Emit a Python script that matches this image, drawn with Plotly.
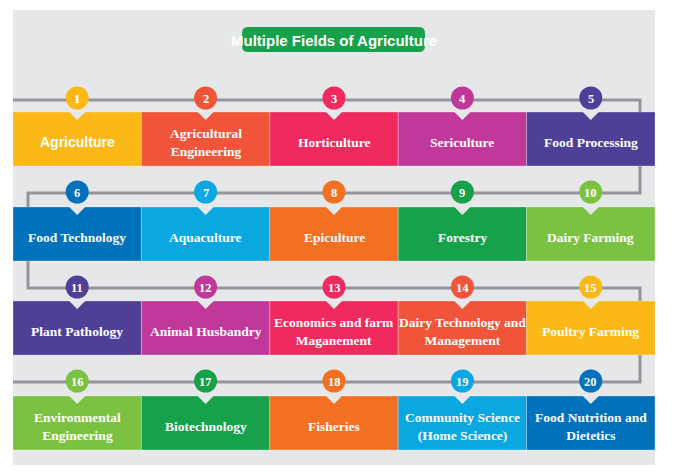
import plotly.graph_objects as go

title = "Multiple Fields of Agriculture"
fields = ["Agriculture", "Agricultural<br>Engineering", "Horticulture", "Sericulture", "Food Processing",
          "Food Technology", "Aquaculture", "Epiculture", "Forestry", "Dairy Farming",
          "Plant Pathology", "Animal Husbandry", "Economics and farm<br>Maganement", "Dairy Technology and<br>Management", "Poultry Farming",
          "Environmental<br>Engineering", "Biotechnology", "Fisheries", "Community Science<br>(Home Science)", "Food Nutrition and<br>Dietetics"]
colors = ["#FBB817", "#F05539", "#EE2A5F", "#C0399A", "#4F3F96",
          "#0071BA", "#0AA7E0", "#F37022", "#17A14B", "#7CC242",
          "#4F3F96", "#C0399A", "#EE2A5F", "#F05539", "#FBB817",
          "#7CC242", "#17A14B", "#F37022", "#0AA7E0", "#0071BA"]

bg = "#E6E7E8"
x0, w = 13, 128.4
box_top = [112, 207, 301, 396]
box_h = 54
circ_y = [98, 192, 287, 381]
line_y = [100, 193, 288, 382]

fig = go.Figure()
shapes = [dict(type="rect", x0=13, x1=655, y0=10, y1=465, fillcolor=bg, line_width=0, layer="below")]
lc = "#939598"
path = (f"M 13 {line_y[0]} L 640 {line_y[0]} L 640 {line_y[1]} L 28 {line_y[1]} L 28 {line_y[2]} "
        f"L 640 {line_y[2]} L 640 {line_y[3]} L 13 {line_y[3]}")
shapes.append(dict(type="path", path=path, line=dict(color=lc, width=3), layer="below"))
ann = []
for i, (f, c) in enumerate(zip(fields, colors)):
    r, col = divmod(i, 5)
    xa = x0 + col * w
    xc = xa + w / 2
    yt = box_top[r]
    shapes.append(dict(type="rect", x0=xa, x1=xa + w, y0=yt, y1=yt + box_h, fillcolor=c,
                       line=dict(color="rgba(255,255,255,0.35)", width=0.8)))
    shapes.append(dict(type="path", path=f"M {xc-8} {yt} L {xc+8} {yt} L {xc} {yt+8} Z",
                       fillcolor=bg, line_width=0))
    font = dict(family="Liberation Serif", size=13.5, color="white")
    if i == 0:
        font = dict(family="Liberation Sans Narrow, Liberation Sans", size=14, color="white")
    ann.append(dict(x=xc, y=yt + box_h / 2 + 3, text=f"<b>{f}</b>", showarrow=False, font=font))
    ann.append(dict(x=xc, y=circ_y[r] + 1, text=f"<b>{i+1}</b>", showarrow=False,
                    font=dict(family="Liberation Serif", size=12.5, color="white")))

xs = [x0 + (i % 5) * w + w / 2 for i in range(20)]
ys = [circ_y[i // 5] for i in range(20)]
fig.add_trace(go.Scatter(x=xs, y=ys, mode="markers", hoverinfo="skip",
                         marker=dict(size=23, color=colors, line_width=0)))

tp = "M 248 27 L 419 27 Q 425 27 425 33 L 425 46 Q 425 52 419 52 L 248 52 Q 242 52 242 46 L 242 33 Q 242 27 248 27 Z"
shapes.append(dict(type="path", path=tp, fillcolor="#17A14B", line_width=0))
ann.append(dict(x=334, y=40, text=f"<b>{title}</b>", showarrow=False,
                font=dict(family="Liberation Sans Narrow, Liberation Sans", size=15, color="white")))

# offset ranges by 8px to compensate page body margin
fig.update_layout(width=673, height=472, margin=dict(l=0, r=0, t=0, b=0),
                  paper_bgcolor="white", plot_bgcolor="white", showlegend=False,
                  shapes=shapes, annotations=ann,
                  xaxis=dict(range=[8, 681], visible=False, fixedrange=True),
                  yaxis=dict(range=[480, 8], visible=False, fixedrange=True))
fig.write_html("out.html")
